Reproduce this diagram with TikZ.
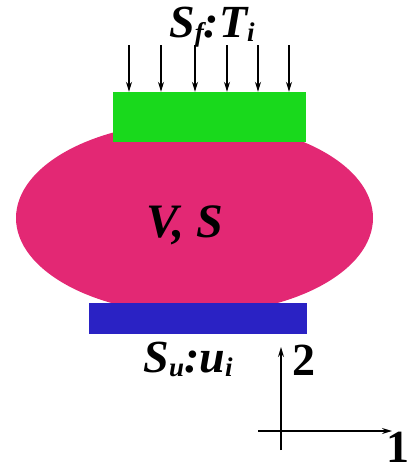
\documentclass[tikz,border=0pt]{standalone}
\usepackage{fontspec}
\setmainfont{Liberation Serif}
\usetikzlibrary{arrows.meta,shapes.geometric}
\definecolor{bodypink}{RGB}{227,40,116}
\definecolor{loadgreen}{RGB}{25,217,28}
\definecolor{suppblue}{RGB}{42,34,196}
\newcommand{\lbl}[1]{\fontsize{46}{48}\selectfont\bfseries\itshape #1}
\newcommand{\subl}[1]{\raisebox{-0.2ex}{\fontsize{27}{27}\selectfont\bfseries\itshape #1}}
\begin{document}
\begin{tikzpicture}[x=1pt,y=-1pt,
  body/.style={ellipse,fill=bodypink,draw=none,minimum width=357pt,minimum height=192pt,inner sep=0pt},
  plate/.style={rectangle,draw=none,inner sep=0pt},
  load/.style={-{Stealth[length=10pt,width=6pt]},line width=1.2pt},
  axis/.style={-{Stealth[length=10pt,width=6pt]},line width=1.3pt},
  txt/.style={inner sep=0pt,anchor=base}]
\useasboundingbox (0,0) rectangle (411,471);
\node[body] (bod) at (194.5,218) {};
\node[plate,fill=loadgreen,minimum width=193pt,minimum height=50pt] (top) at (209.5,117) {};
\node[plate,fill=suppblue,minimum width=218pt,minimum height=31pt] (bot) at (198,318.5) {};
\node[txt] (vs) at (185,237) {\fontsize{48}{50}\selectfont\bfseries\itshape V, S};
\node[txt] (sf) at (212,37) {\lbl{S\subl{f}:T\subl{i}}};
\node[txt] (su) at (188,372) {\lbl{S\subl{u}:u\subl{i}}};
\foreach \i/\x in {1/129,2/161,3/195,4/227,5/258,6/289}{
  \coordinate (l\i) at (\x,45);
  \draw[load] (l\i) -- (l\i |- top.north);
}
\coordinate (o) at (281,431);
\coordinate (vb) at (281,450);
\coordinate (vt) at (281,347);
\coordinate (hl) at (258,431);
\coordinate (hr) at (392,431);
\draw[axis] (vb) -- (vt);
\draw[axis] (hl) -- (hr);
\node[inner sep=0pt] (two) at (304,360) {\fontsize{46}{48}\selectfont\bfseries 2};
\node[inner sep=0pt] (one) at (398,447) {\fontsize{46}{48}\selectfont\bfseries 1};
\end{tikzpicture}
\end{document}
